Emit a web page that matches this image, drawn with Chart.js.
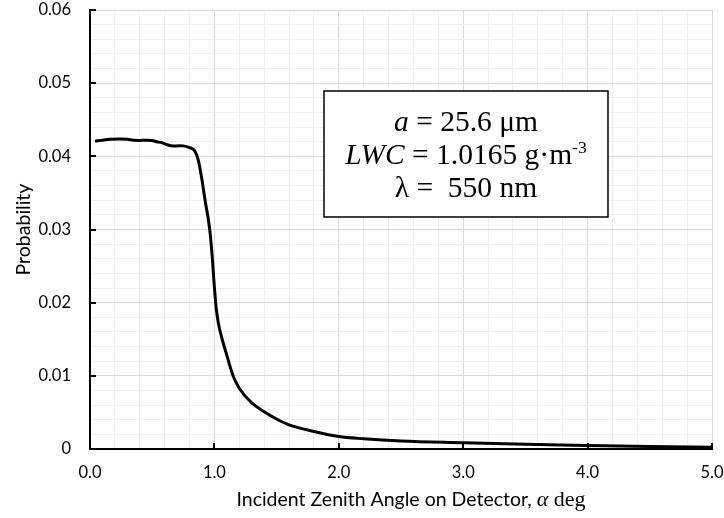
<!DOCTYPE html>
<html><head><meta charset="utf-8">
<script src="https://cdn.jsdelivr.net/npm/chart.js@4"></script>
<style>html,body{margin:0;padding:0;background:#fff}#wrap{width:724px;height:518px}</style>
</head><body><div id="wrap"><canvas id="c" width="724" height="518"></canvas></div>
<script>
// ---- data ----
const angles = [0.04, 0.10, 0.16, 0.24, 0.30, 0.35, 0.40, 0.455, 0.50, 0.535, 0.58, 0.616, 0.67, 0.72, 0.75, 0.80, 0.84, 0.87, 0.90, 0.925, 0.95, 0.965, 0.975, 0.986, 0.995, 1.005, 1.015, 1.032, 1.058, 1.093, 1.15, 1.20, 1.30, 1.40, 1.50, 1.60, 1.80, 2.00, 2.20, 2.50, 3.00, 3.50, 4.00, 4.50, 5.00];
const probability = [0.0421, 0.0422, 0.04233, 0.04237, 0.04232, 0.0422, 0.04218, 0.0422, 0.04215, 0.0420, 0.04185, 0.0416, 0.0414, 0.04145, 0.04143, 0.0412, 0.0408, 0.0395, 0.0368, 0.0340, 0.0315, 0.0296, 0.0278, 0.0255, 0.0232, 0.0210, 0.0192, 0.0172, 0.0153, 0.0132, 0.0100, 0.0083, 0.0063, 0.0051, 0.0041, 0.0033, 0.0024, 0.0017, 0.0014, 0.0011, 0.00086, 0.00064, 0.00048, 0.00035, 0.00025];
const xTickLabels = ['0.0', '1.0', '2.0', '3.0', '4.0', '5.0'];
const yTickLabels = ['0', '0.01', '0.02', '0.03', '0.04', '0.05', '0.06'];
const xTitleSans = 'Incident Zenith Angle on Detector, ';
const xTitleSym = 'α';
const xTitleUnit = ' deg';
const yTitle = 'Probability';
const noteLines = [
  [{t: 'a', it: true}, {t: ' = 25.6 μm'}],
  [{t: 'LWC', it: true}, {t: ' = 1.0165 g·m'}, {t: '-3', sup: true}],
  [{t: 'λ =  550 nm'}]
];

// ---- layout / style ----
const SANS = 'Lato, "Open Sans", sans-serif';
const SERIF = '"Liberation Serif", "DejaVu Serif", serif';
const TICK_FONT = 16.5;
const TITLE_FONT = 19.5;
const NOTE_BOX = {x0: 1.881, x1: 4.164, y0: 0.04893, y1: 0.03171};
const NOTE_SIZE = 29.5;

const isMajorX = v => Math.abs(v - Math.round(v)) < 1e-6;
const isMajorY = v => Math.abs(v * 100 - Math.round(v * 100)) < 1e-6;

const decor = {
  id: 'decor',
  beforeDatasetsDraw(chart) {
    const ctx = chart.ctx, xs = chart.scales.x, ys = chart.scales.y;
    ctx.save();
    ctx.strokeStyle = '#000';
    ctx.lineWidth = 2;
    ctx.beginPath();
    for (let i = 1; i < yTickLabels.length; i++) {
      const py = Math.round(ys.getPixelForValue(i / 100));
      ctx.moveTo(xs.left, py); ctx.lineTo(xs.left + 6, py);
    }
    for (let i = 1; i < xTickLabels.length; i++) {
      const px = Math.round(xs.getPixelForValue(i));
      ctx.moveTo(px, ys.bottom); ctx.lineTo(px, ys.bottom - 6);
    }
    ctx.stroke();
    ctx.restore();
  },
  afterDraw(chart) {
    const ctx = chart.ctx, xs = chart.scales.x, ys = chart.scales.y;
    ctx.save();
    // annotation box
    const bx0 = xs.getPixelForValue(NOTE_BOX.x0), bx1 = xs.getPixelForValue(NOTE_BOX.x1);
    const by0 = ys.getPixelForValue(NOTE_BOX.y0), by1 = ys.getPixelForValue(NOTE_BOX.y1);
    ctx.fillStyle = '#fff';
    ctx.fillRect(bx0, by0, bx1 - bx0, by1 - by0);
    ctx.strokeStyle = '#000';
    ctx.lineWidth = 1.5;
    ctx.strokeRect(bx0, by0, bx1 - bx0, by1 - by0);
    const cx = (bx0 + bx1) / 2;
    const lineGap = 33.3;
    const firstY = (by0 + by1) / 2 - lineGap;
    ctx.fillStyle = '#000';
    ctx.textBaseline = 'alphabetic';
    noteLines.forEach((segs, li) => {
      const base = firstY + li * lineGap + 10;
      const fontOf = s => (s.it ? 'italic ' : '') + (s.sup ? NOTE_SIZE * 0.6 : NOTE_SIZE) + 'px ' + SERIF;
      let w = 0;
      segs.forEach(s => { ctx.font = fontOf(s); w += ctx.measureText(s.t).width; });
      let x = cx - w / 2;
      segs.forEach(s => {
        ctx.font = fontOf(s);
        ctx.textAlign = 'left';
        ctx.fillText(s.t, x, s.sup ? base - 11 : base);
        x += ctx.measureText(s.t).width;
      });
    });
    // x-axis title (mixed fonts)
    const parts = [
      {t: xTitleSans, f: TITLE_FONT + 'px ' + SANS},
      {t: xTitleSym, f: 'italic 22px ' + SERIF},
      {t: xTitleUnit, f: '22px ' + SERIF}
    ];
    let tw = 0;
    parts.forEach(p => { ctx.font = p.f; tw += ctx.measureText(p.t).width; });
    let tx = 411 - tw / 2;
    const ty = 506;
    parts.forEach(p => {
      ctx.font = p.f; ctx.textAlign = 'left';
      ctx.fillText(p.t, tx, ty);
      tx += ctx.measureText(p.t).width;
    });
    ctx.restore();
  }
};

const points = angles.map((a, i) => ({x: a, y: probability[i]}));

new Chart(document.getElementById('c'), {
  type: 'line',
  data: {
    datasets: [{
      data: points,
      borderColor: '#000',
      borderWidth: 3,
      pointRadius: 0,
      fill: false,
      cubicInterpolationMode: 'monotone'
    }]
  },
  options: {
    responsive: false,
    animation: false,
    devicePixelRatio: 1,
    layout: {padding: 0},
    plugins: {legend: {display: false}, tooltip: {enabled: false}},
    scales: {
      x: {
        type: 'linear', min: 0, max: 5,
        afterFit: s => { s.height = 69; s.paddingRight = 12; s.paddingLeft = 0; },
        ticks: {
          stepSize: 0.2, autoSkip: false, maxRotation: 0, padding: 14,
          color: '#000', font: {family: SANS, size: TICK_FONT},
          callback: v => isMajorX(v) ? xTickLabels[Math.round(v)] : ''
        },
        grid: {
          drawTicks: false,
          color: c => isMajorX(c.tick.value) ? '#d9d9d9' : '#efefef',
          lineWidth: 1
        },
        border: {color: '#000', width: 2}
      },
      y: {
        type: 'linear', min: 0, max: 0.06,
        afterFit: s => { s.width = 90; s.paddingTop = 10; s.paddingBottom = 0; },
        ticks: {
          stepSize: 0.002, autoSkip: false, padding: 19,
          color: '#000', font: {family: SANS, size: TICK_FONT},
          callback: v => isMajorY(v) ? yTickLabels[Math.round(v * 100)] : ''
        },
        grid: {
          drawTicks: false,
          color: c => isMajorY(c.tick.value) ? '#d9d9d9' : '#efefef',
          lineWidth: 1
        },
        border: {color: '#000', width: 2},
        title: {display: true, text: yTitle, color: '#000', font: {family: SANS, size: TITLE_FONT}, padding: {top: 12, bottom: 0}}
      }
    }
  },
  plugins: [decor]
});
</script></body></html>
